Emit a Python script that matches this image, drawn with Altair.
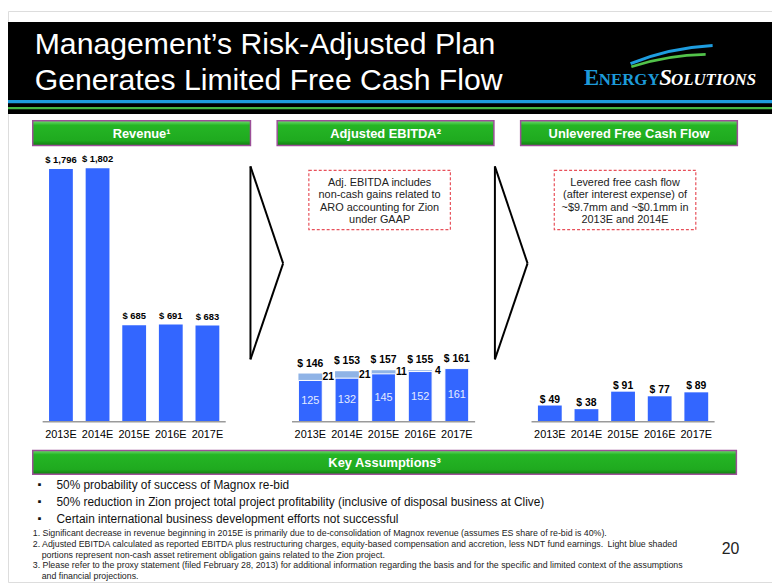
import altair as alt
import pandas as pd

# ---------------- data ----------------
years = ["2013E", "2014E", "2015E", "2016E", "2017E"]
revenue = [1796, 1802, 685, 691, 683]
ebitda_base = [125, 132, 145, 152, 161]
ebitda_aro = [21, 21, 11, 4, 0]
ebitda_total = [146, 153, 157, 155, 161]
fcf = [49, 38, 91, 77, 89]

title_lines = ["Management\u2019s Risk-Adjusted Plan", "Generates Limited Free Cash Flow"]
panel_titles = ["Revenue\u00b9", "Adjusted EBITDA\u00b2", "Unlevered Free Cash Flow"]
ebitda_note = ["Adj. EBITDA includes", "non-cash gains related to", "ARO accounting for Zion", "under GAAP"]
fcf_note = ["Levered free cash flow", "(after interest expense) of", "~$9.7mm and ~$0.1mm in", "2013E and 2014E"]
bullets = [
    "50% probability of success of Magnox re-bid",
    "50% reduction in Zion project total project profitability (inclusive of disposal business at Clive)",
    "Certain international business development efforts not successful",
]
footnotes = [
    "1. Significant decrease in revenue beginning in 2015E is primarily due to de-consolidation of Magnox revenue (assumes ES share of re-bid is 40%).",
    "2. Adjusted EBITDA calculated as reported EBITDA plus restructuring charges, equity-based compensation and accretion, less NDT fund earnings.\u2002Light blue shaded",
    "    portions represent non-cash asset retirement obligation gains related to the Zion project.",
    "3. Please refer to the proxy statement (filed February 28, 2013) for additional information regarding the basis and for the specific and limited context of the assumptions",
    "    and financial projections.",
]

# ---------------- helpers ----------------
FONT = "Liberation Sans"
OFF = 8  # page margin


def px(v):
    return v - OFF


def py(v):
    return v - OFF


one = alt.Data(values=[{"k": 0}])


def rect(x1, y1, x2, y2, **kw):
    return alt.Chart(one).mark_rect(**kw).encode(
        x=alt.value(px(x1)), x2=alt.value(px(x2)), y=alt.value(py(y1)), y2=alt.value(py(y2))
    )


def seg(x1, y1, x2, y2, **kw):
    return alt.Chart(one).mark_rule(**kw).encode(
        x=alt.value(px(x1)), x2=alt.value(px(x2)), y=alt.value(py(y1)), y2=alt.value(py(y2))
    )


def txt(s, x, y, size=11, color="black", align="left", baseline="middle", weight="normal", font=FONT, style="normal"):
    return alt.Chart(one).mark_text(
        text=s, font=font, fontSize=size, color=color, align=align, baseline=baseline,
        fontWeight=weight, fontStyle=style,
    ).encode(x=alt.value(px(x)), y=alt.value(py(y)))


green_fill = alt.LinearGradient(
    gradient="linear",
    stops=[
        alt.GradientStop(color="#6fdc6f", offset=0),
        alt.GradientStop(color="#25b525", offset=0.18),
        alt.GradientStop(color="#1faa1f", offset=0.8),
        alt.GradientStop(color="#117a11", offset=1),
    ],
    x1=0, x2=0, y1=0, y2=1,
)


def green_box(x1, y1, x2, y2, label):
    return [
        rect(x1, y1, x2, y2, fill=green_fill, stroke="#9c4f98", strokeWidth=1.5),
        txt(label, (x1 + x2) / 2, (y1 + y2) / 2 + 0.5, size=13, color="white", align="center", weight="bold"),
    ]


BLUE = "#3366ff"
LIGHT = "#8fb3e6"
BASE_Y = 423


def xscale(x0, x1):
    return alt.Scale(domain=years, range=[px(x0), px(x1)], paddingInner=0.35, paddingOuter=0.175)


rev_y = alt.Scale(domain=[0, 1800], range=[py(BASE_Y), py(BASE_Y - 255.9)])
small_y = alt.Scale(domain=[0, 180], range=[py(BASE_Y), py(BASE_Y - 60.0)])


def axis_parts(df, xs, x0, x1):
    X = alt.X("year:N", scale=xs, axis=None)
    rule = seg(x0, BASE_Y, x1, BASE_Y, color="#9a9a9a", strokeWidth=1.5)
    labels = alt.Chart(df).mark_text(font=FONT, fontSize=11, color="black", baseline="middle").encode(
        x=X, y=alt.value(py(436)), text="year:N"
    )
    return [rule, labels]


layers = []

# ---------------- header ----------------
layers.append(rect(0, 19, 790, 112, fill="black"))
layers.append(rect(0, 98, 790, 101.3, fill="#1e9de0"))
layers.append(rect(0, 105, 790, 107.3, fill="#45b845"))
layers.append(txt(title_lines[0], 35, 51, size=30.5, color="white", baseline="alphabetic"))
layers.append(txt(title_lines[1], 35, 88, size=30.5, color="white", baseline="alphabetic"))

# logo swooshes (arcs of large circles centred below the logo)
layers.append(
    alt.Chart(one).mark_arc(theta=5.9027, theta2=6.2308, radius=261.5, radius2=258.5, color="#1e9de0").encode(
        x=alt.value(px(733.6)), y=alt.value(py(302.6))
    )
)
layers.append(
    alt.Chart(one).mark_arc(theta=5.972, theta2=6.2657, radius=261.5, radius2=258.8, color="#52c24a").encode(
        x=alt.value(px(717.5)), y=alt.value(py(312))
    )
)
SERIF = "Liberation Serif"
LOGO_BLUE = "#1d9ad9"
layers.append(txt("E", 590, 83, size=23, color=LOGO_BLUE, baseline="alphabetic", weight="bold", font=SERIF))
layers.append(txt("NERGY", 605, 83, size=17, color=LOGO_BLUE, baseline="alphabetic", weight="bold", font=SERIF))
layers.append(txt("S", 666, 83, size=23, color="white", baseline="alphabetic", weight="bold", font=SERIF, style="italic"))
layers.append(txt("OLUTIONS", 678, 83, size=17, color="white", baseline="alphabetic", weight="bold", font=SERIF, style="italic"))

# ---------------- panel headers ----------------
layers += green_box(33, 119, 253, 144, panel_titles[0])
layers += green_box(280, 119, 499, 144, panel_titles[1])
layers += green_box(526, 119, 745, 144, panel_titles[2])

# chevrons
for cx in (253, 500):
    layers.append(seg(cx, 165, cx, 360, color="black", strokeWidth=2))
    layers.append(seg(cx, 165, cx + 33, 263, color="black", strokeWidth=2))
    layers.append(seg(cx + 33, 263, cx, 360, color="black", strokeWidth=2))

# dashed note boxes
for (x1, x2, lines) in ((312, 455, ebitda_note), (560, 703, fcf_note)):
    layers.append(rect(x1, 169, x2, 229, fill="white", stroke="#e8505a", strokeDash=[3, 2], strokeWidth=1.2))
    for i, s in enumerate(lines):
        layers.append(txt(s, (x1 + x2) / 2, 181.5 + 12.6 * i, size=11, color="#222", align="center"))

# ---------------- revenue panel ----------------
rev_df = pd.DataFrame({"year": years, "value": revenue})
rev_df["label"] = ["$ " + format(v, ",") for v in revenue]
xs_rev = xscale(43, 228)
Xr = alt.X("year:N", scale=xs_rev, axis=None)
Yr = alt.Y("value:Q", scale=rev_y, axis=None)
layers.append(alt.Chart(rev_df).mark_bar(color=BLUE).encode(x=Xr, y=Yr))
layers.append(
    alt.Chart(rev_df).mark_text(font=FONT, fontSize=9.5, fontWeight="bold", baseline="alphabetic", dy=-6).encode(
        x=Xr, y=Yr, text="label:N"
    )
)
layers += axis_parts(rev_df, xs_rev, 43, 228)

# ---------------- EBITDA panel ----------------
eb_df = pd.DataFrame({"year": years, "base": ebitda_base, "aro": ebitda_aro, "total": ebitda_total})
eb_df["top"] = eb_df["base"] + eb_df["aro"]
eb_df["mid_aro"] = eb_df["base"] + eb_df["aro"] / 2
eb_df["mid_base"] = eb_df["base"] / 2
eb_df["label"] = ["$ " + str(v) for v in ebitda_total]
xs_eb = xscale(295, 480)
Xe = alt.X("year:N", scale=xs_eb, axis=None)
layers.append(
    alt.Chart(eb_df).mark_bar(color=LIGHT).encode(
        x=Xe, y=alt.Y("top:Q", scale=small_y, axis=None), y2="base:Q"
    )
)
layers.append(
    alt.Chart(eb_df).mark_bar(color=BLUE, stroke="white", strokeWidth=1).encode(
        x=Xe, y=alt.Y("base:Q", scale=small_y, axis=None)
    )
)
layers.append(
    alt.Chart(eb_df).mark_text(font=FONT, fontSize=11, color="#e4ebff", baseline="middle").encode(
        x=Xe, y=alt.Y("mid_base:Q", scale=small_y, axis=None), text="base:Q"
    )
)
aro_df = eb_df[eb_df["aro"] > 0]
layers.append(
    alt.Chart(aro_df).mark_text(font=FONT, fontSize=10.5, fontWeight="bold", baseline="middle", dx=18).encode(
        x=Xe, y=alt.Y("mid_aro:Q", scale=small_y, axis=None), text="aro:Q"
    )
)
layers.append(
    alt.Chart(eb_df).mark_text(font=FONT, fontSize=10.5, fontWeight="bold", baseline="alphabetic", dy=-7).encode(
        x=Xe, y=alt.Y("top:Q", scale=small_y, axis=None), text="label:N"
    )
)
layers += axis_parts(eb_df, xs_eb, 295, 480)

# ---------------- FCF panel ----------------
fcf_df = pd.DataFrame({"year": years, "value": fcf})
fcf_df["label"] = ["$ " + str(v) for v in fcf]
xs_f = xscale(537, 722)
Xf = alt.X("year:N", scale=xs_f, axis=None)
Yf = alt.Y("value:Q", scale=small_y, axis=None)
layers.append(alt.Chart(fcf_df).mark_bar(color=BLUE).encode(x=Xf, y=Yf))
layers.append(
    alt.Chart(fcf_df).mark_text(font=FONT, fontSize=10.5, fontWeight="bold", baseline="alphabetic", dy=-3).encode(
        x=Xf, y=Yf, text="label:N"
    )
)
layers += axis_parts(fcf_df, xs_f, 537, 722)

# ---------------- key assumptions ----------------
layers += green_box(33, 452, 744, 476, "Key Assumptions\u00b3")
for i, s in enumerate(bullets):
    yy = 487 + 17.3 * i
    layers.append(txt("\u25aa", 40, yy, size=11, color="#111", align="center"))
    layers.append(txt(s, 57, yy, size=12, color="#111"))

for i, s in enumerate(footnotes):
    yy = 535.5 + 10.9 * i
    xx = 42 if s.startswith("    ") else 33
    layers.append(txt(s.strip(), xx, yy, size=8.9, color="#222"))

layers.append(txt("20", 738, 552, size=16, color="#222", align="center"))

chart = (
    alt.layer(*layers)
    .resolve_scale(x="independent", y="independent")
    .properties(width=772, height=577, autosize=alt.AutoSizeParams(type="none"), padding=0)
    .configure_view(stroke=None)
    .configure(background="white")
)

chart.save("out.html", embed_options={"renderer": "svg", "actions": False})
